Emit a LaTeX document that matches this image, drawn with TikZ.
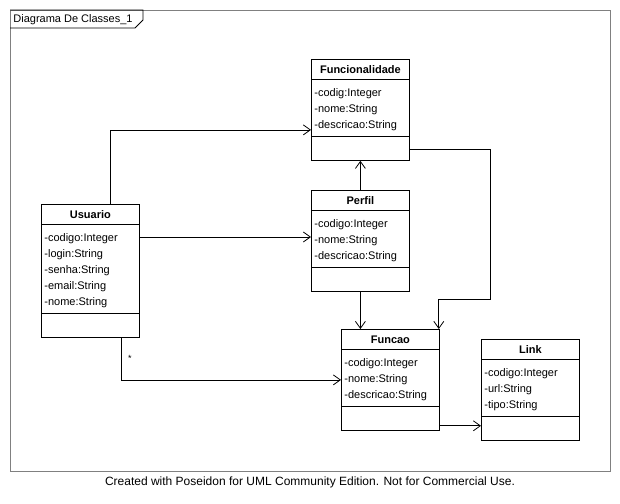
\documentclass[tikz,border=0pt]{standalone}
\usepackage{fontspec}
\setmainfont{Liberation Sans}
\usepackage{xcolor}
\definecolor{framegray}{gray}{0.50}
\usepackage{tikz}
\usetikzlibrary{arrows.meta, positioning}

\tikzset{
	classbox/.style={draw, anchor=north west, minimum width=98pt, inner sep=0pt},
	classname/.style={inner sep=0pt, font=\fontsize{11}{13}\selectfont\bfseries},
	attribute/.style={anchor=west, inner sep=0pt, font=\fontsize{11}{13}\selectfont},
	assoc/.style={-{Straight Barb[length=7pt, width=10pt]}},
}

\begin{document}
\begin{tikzpicture}[x=1pt, y=-1pt, line width=0.8pt]

\useasboundingbox (0,0) rectangle (620,503);

\def \xhead{20}
\def \xrow{16}

\newcommand{\umlclass}[5]{ % name, corner, title, rows, attributes
	\pgfmathsetmacro{\xsep}{\xhead + \xrow * #4 + 9}
	\pgfmathsetmacro{\xhgt}{\xsep + 24}
	\node[classbox, minimum height=\xhgt pt] (#1) at (#2) {};
	\node[classname] (#1 title) at ([yshift=-\xhead pt / 2 - 1pt]#1.north) {#3};
	\draw ([yshift=-\xhead pt]#1.north west) -- ([yshift=-\xhead pt]#1.north east); % title line
	\draw ([yshift=-\xsep pt]#1.north west) -- ([yshift=-\xsep pt]#1.north east); % attribute line
	\foreach \a [count=\i] in {#5} {
		\pgfmathsetmacro{\ya}{\xhead + 14.5 + \xrow * (\i - 1)}
		\node[attribute] at ([xshift=3pt, yshift=-\ya pt]#1.north west) {\a};
	}
}

\draw[framegray] (10,10) rectangle (610,471); % frame
\draw (10,10) -- (143,10) -- (143,20) -- (135,28) -- (10,28); % tab
\node[attribute] (diagram name) at (13,20) {Diagrama De Classes\_1};

\umlclass{funcionalidade}{311,59}{Funcionalidade}{3}{-codig:Integer, -nome:String, -descricao:String}
\umlclass{perfil}{311,190}{Perfil}{3}{-codigo:Integer, -nome:String, -descricao:String}
\umlclass{usuario}{41,204}{Usuario}{5}{-codigo:Integer, -login:String, -senha:String, -email:String, -nome:String}
\umlclass{funcao}{341,329}{Funcao}{3}{-codigo:Integer, -nome:String, -descricao:String}
\umlclass{link}{481,339}{Link}{3}{-codigo:Integer, -url:String, -tipo:String}

\coordinate (usuario top) at ([xshift=20pt]usuario.north);
\coordinate (usuario right) at ([yshift=-33pt]usuario.north east);
\coordinate (usuario bottom) at ([xshift=31pt]usuario.south);
\coordinate (funcionalidade right) at ([yshift=11pt]funcionalidade.south east);
\coordinate (bend) at (490,299);
\coordinate (funcao right) at ([yshift=5pt]funcao.south east);

\draw[assoc] (usuario top) |- ([yshift=-20pt]funcionalidade.west);
\draw[assoc] (usuario right) -- (usuario right -| perfil.west);
\draw[assoc] (usuario bottom) |- (funcao.west) node[pos=0.25, right=3pt, font=\small] {*};
\draw[assoc] (perfil.north) -- (funcionalidade.south);
\draw[assoc] (perfil.south) -- (perfil.south |- funcao.north);
\draw[assoc] (funcionalidade right) -| (bend) -| ([xshift=-1pt]funcao.north east);
\draw[assoc] (funcao right) -- (funcao right -| link.west);

\node[font=\fontsize{12}{14}\selectfont] (footer) at (310,482) {Created with Poseidon for UML Community Edition. Not for Commercial Use.};

\end{tikzpicture}
\end{document}
